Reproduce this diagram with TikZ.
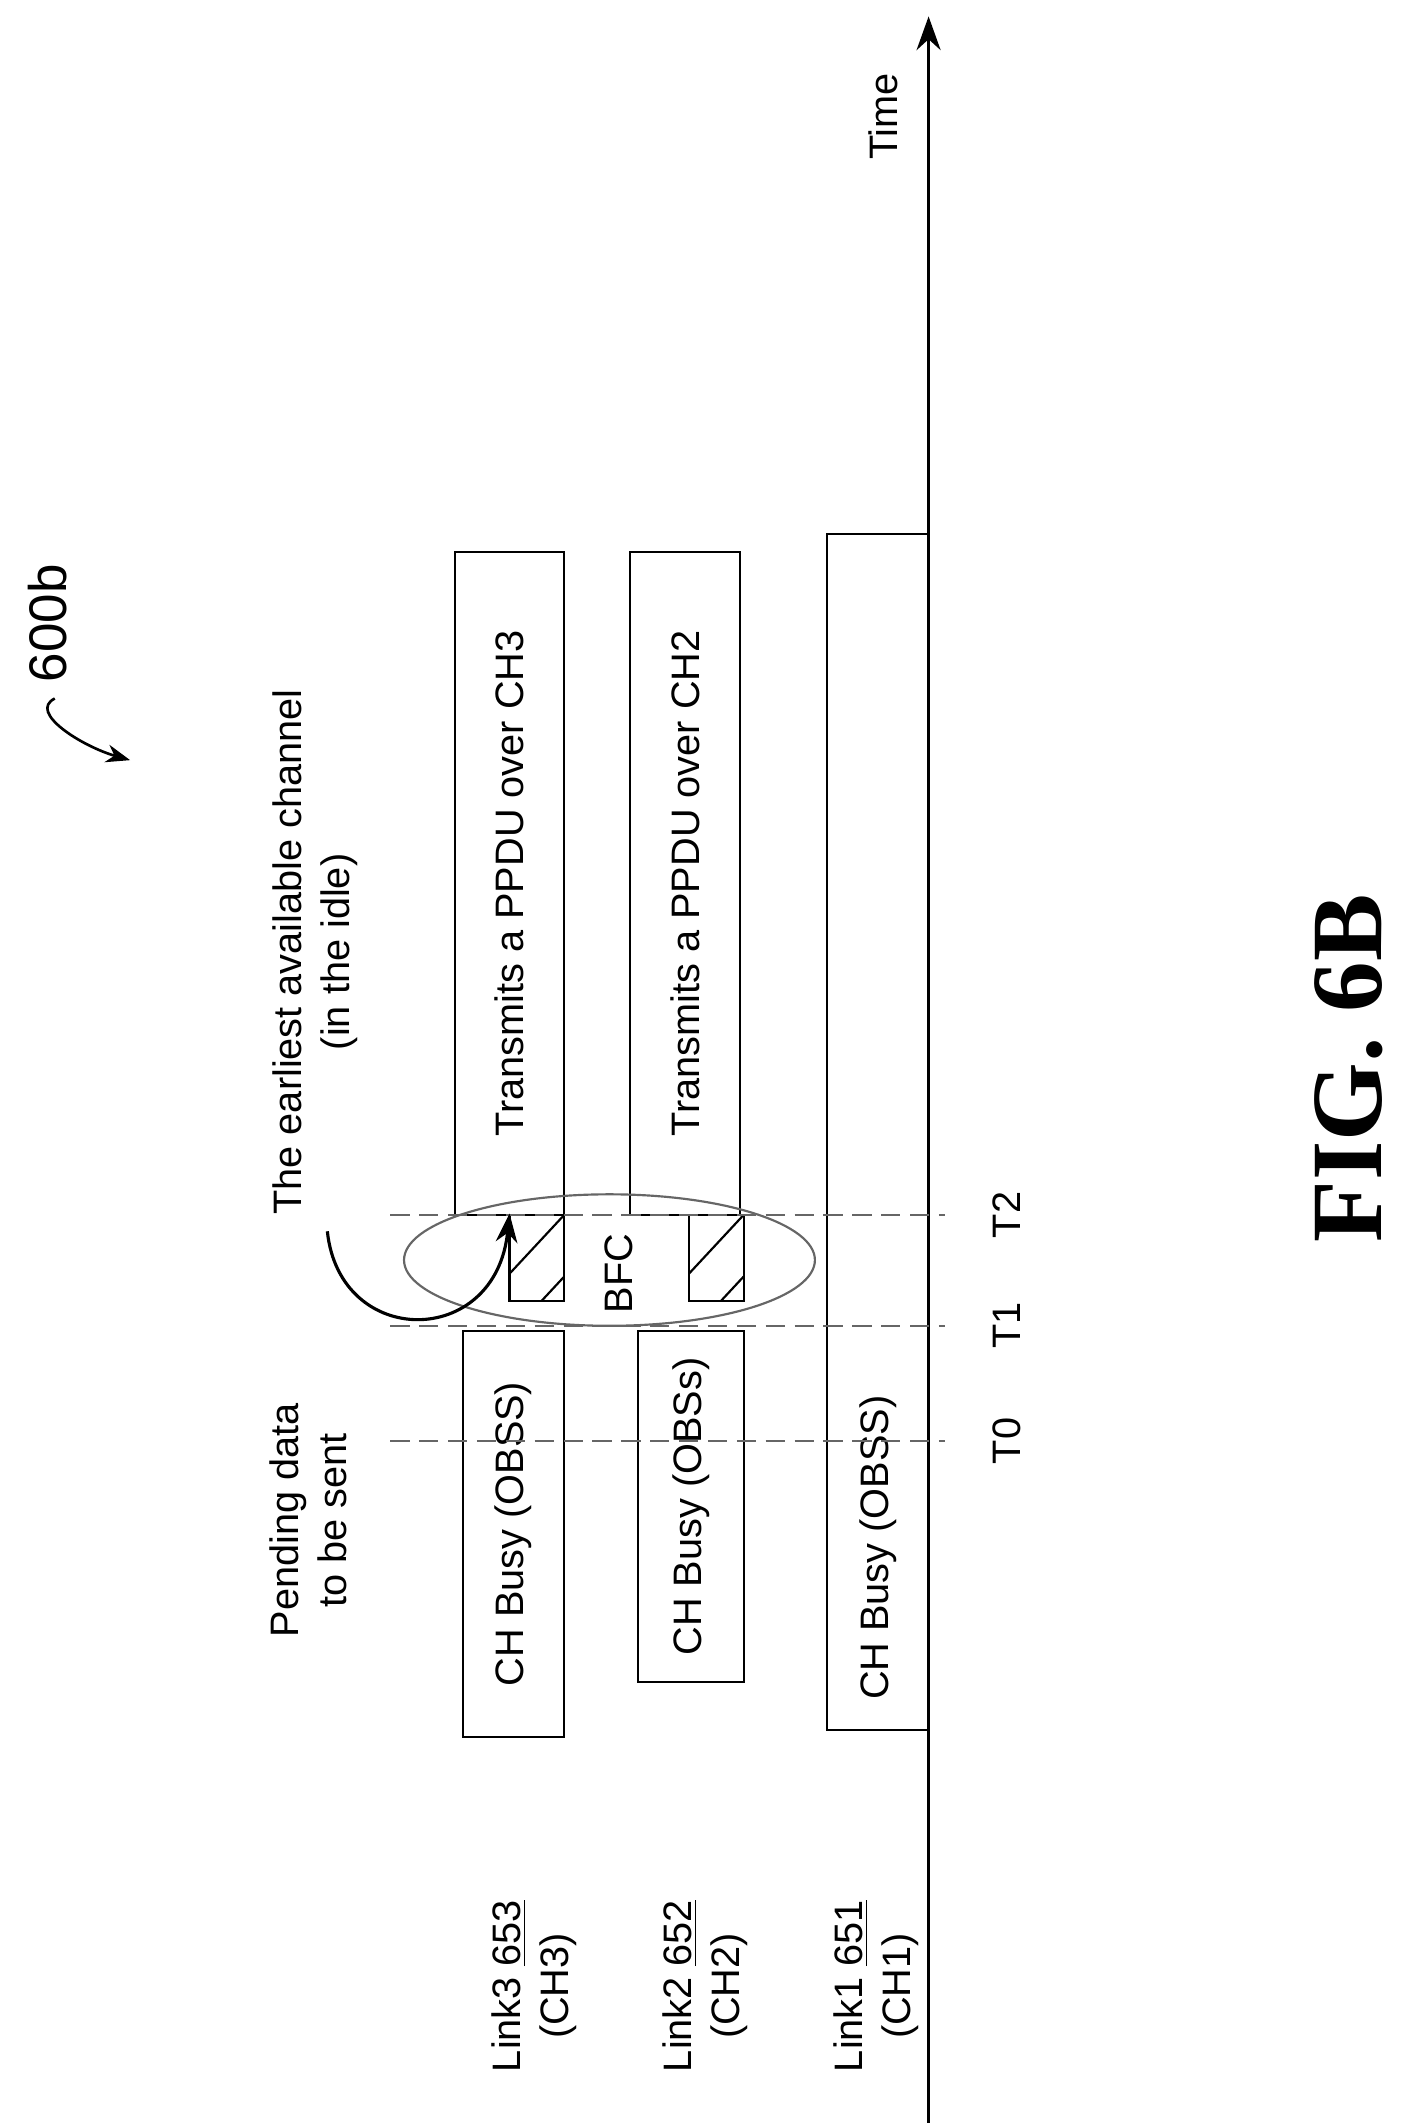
\documentclass[tikz,border=0pt]{standalone}
\usepackage{fontspec}
\setmainfont{Liberation Sans}
\newfontfamily\figfont{Liberation Serif}
\usetikzlibrary{arrows.meta,positioning}
\begin{document}
\begin{tikzpicture}[x=0.02cm,y=-0.02cm]
	\tikzset{every node/.style={font=\fontsize{16.5}{20}\selectfont, rotate=90, align=center},
		slot/.style={draw, line width=0.9pt},
		mark line/.style={dash pattern=on 8pt off 4pt, gray!80!black, line width=0.9pt}}
	\useasboundingbox (0,0) rectangle (1024,1553);
	% time axis
	\coordinate (tbot) at (678,1550);
	\coordinate (ttop) at (678,12);
	\draw [line width=1.1pt, -{Stealth[length=14pt,width=10pt]}] (tbot) -- (ttop);
	\node (time) at (645,85) {Time};
	% boxes
	\draw [slot] (332,403) rectangle (412,887) node [pos=0.5] (tx3) {Transmits a PPDU over CH3};
	\draw [slot] (338,972) rectangle (412,1268) node [pos=0.5] (busy3) {CH Busy (OBSS)};
	\draw [slot] (460,403) rectangle (540,887) node [pos=0.5] (tx2) {Transmits a PPDU over CH2};
	\draw [slot] (466,972) rectangle (543,1228) node [pos=0.5] (busy2) {CH Busy (OBSs)};
	\draw [slot] (604,390) rectangle (678,1263);
	\node (busy1) at (641,1130) {CH Busy (OBSS)};
	% backoff slots
	\foreach \xa in {372,503} {
		\draw [slot] (\xa,887) rectangle (\xa+40,950);
		\begin{scope}
			\clip (\xa,887) rectangle (\xa+40,950);
			\draw [line width=0.9pt] (\xa,930) -- (\xa+40,887);
			\draw [line width=0.9pt] (\xa,975) -- (\xa+40,932);
		\end{scope}
	}
	\node (bfc) at (452,930) {BFC};
	\draw [gray!80!black, line width=0.9pt] (445,920) ellipse (150 and 48);
	% time marks
	\foreach \ya/\lab in {887/T2,968/T1,1052/T0} {
		\draw [mark line] (285,\ya) -- (690,\ya);
		\node at (735,\ya) {\lab};
	}
	% link labels
	\node (l3) at (390,1450) {Link3 \underline{653}\\(CH3)};
	\node (l2) at (515,1450) {Link2 \underline{652}\\(CH2)};
	\node (l1) at (640,1450) {Link1 \underline{651}\\(CH1)};
	\node (pend) at (225,1110) {Pending data\\to be sent};
	\node (earl) at (230,695) {The earliest available channel\\(in the idle)};
	% curved arrow
	\coordinate (ca) at (239,899);
	\coordinate (cb) at (372,886);
	\draw [line width=1.3pt, -{Stealth[length=12pt]}] (ca) .. controls (248,985) and (362,985) .. (cb);
	% figure reference
	\node (ref) at (35,455) {\fontsize{22}{24}\selectfont 600b};
	\coordinate (ra) at (40,510);
	\draw [line width=1.1pt, -{Stealth[length=10pt]}] (ra) .. controls (20,520) and (60,545) .. (95,555);
	\node (fig) at (985,780) {\figfont\bfseries\fontsize{42}{46}\selectfont FIG. 6B};
\end{tikzpicture}
\end{document}
